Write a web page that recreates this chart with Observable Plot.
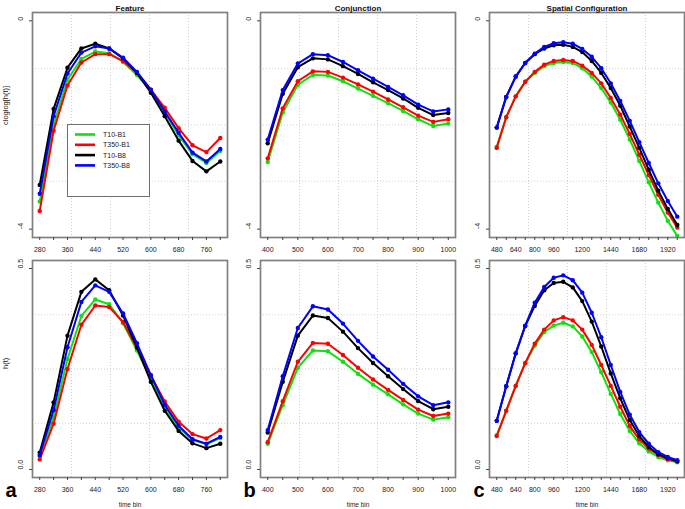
<!DOCTYPE html>
<html><head><meta charset="utf-8">
<script src="https://cdn.jsdelivr.net/npm/d3@7"></script>
<script src="https://cdn.jsdelivr.net/npm/@observablehq/plot@0.6"></script>
<style>
body{margin:0;background:#fff;font-family:"Liberation Sans",Arial,sans-serif;}
#root{position:relative;width:685px;height:509px;overflow:hidden;background:#fff;}
.panel{position:absolute;}
#legend{position:absolute;left:67px;top:124px;}
</style></head><body><div id="root"></div>
<script>
// ---------- categories ----------
const seriesNames = ["T10-B1", "T350-B1", "T10-B8", "T350-B8"];
const seriesColors = ["#10e010", "#ff0000", "#000000", "#0000ff"];

// ---------- x bins & tick labels ----------
const featureBins = [280,320,360,400,440,480,520,560,600,640,680,720,760,800];
const featureTickLabels = [280,360,440,520,600,680,760];
const conjBins = [400,450,500,550,600,650,700,750,800,850,900,950,1000];
const conjTickLabels = [400,500,600,700,800,900,1000];
const spatialBins = [480,560,640,720,800,880,960,1040,1120,1200,1280,1360,1440,1520,1600,1680,1760,1840,1920,2000];
const spatialTickLabels = [480,640,800,960,1200,1440,1680,1920];

// ---------- y ticks ----------
const cloglogTicks = [0, -4];
const hazardTicks = [0, 0.5];

// ---------- Feature: cloglog[h(t)] ----------
const featureCloglogT10B1  = [-3.47,-1.99,-1.13,-0.73,-0.59,-0.62,-0.79,-1.04,-1.34,-1.76,-2.20,-2.56,-2.73,-2.50];
const featureCloglogT350B1 = [-3.65,-2.11,-1.24,-0.80,-0.64,-0.64,-0.77,-1.00,-1.32,-1.67,-2.06,-2.39,-2.52,-2.25];
const featureCloglogT10B8  = [-3.15,-1.69,-0.90,-0.53,-0.44,-0.53,-0.72,-1.00,-1.38,-1.83,-2.30,-2.69,-2.89,-2.70];
const featureCloglogT350B8 = [-3.32,-1.83,-1.01,-0.61,-0.49,-0.53,-0.71,-0.98,-1.32,-1.74,-2.15,-2.53,-2.70,-2.46];

// ---------- Conjunction: cloglog[h(t)] ----------
const conjCloglogT10B1  = [-2.71,-1.76,-1.23,-1.04,-1.05,-1.16,-1.30,-1.44,-1.58,-1.73,-1.89,-2.02,-1.97];
const conjCloglogT350B1 = [-2.64,-1.68,-1.16,-0.97,-0.98,-1.09,-1.22,-1.36,-1.51,-1.66,-1.82,-1.94,-1.89];
const conjCloglogT10B8  = [-2.35,-1.40,-0.89,-0.72,-0.74,-0.87,-1.02,-1.18,-1.33,-1.49,-1.67,-1.81,-1.77];
const conjCloglogT350B8 = [-2.28,-1.33,-0.82,-0.64,-0.66,-0.79,-0.95,-1.11,-1.27,-1.43,-1.61,-1.74,-1.70];

// ---------- Spatial Configuration: cloglog[h(t)] ----------
const spatialCloglogT10B1  = [-2.42,-1.85,-1.45,-1.17,-1.00,-0.87,-0.81,-0.79,-0.81,-0.91,-1.07,-1.29,-1.57,-1.90,-2.28,-2.69,-3.10,-3.49,-3.84,-4.13];
const spatialCloglogT350B1 = [-2.44,-1.85,-1.45,-1.17,-0.98,-0.84,-0.77,-0.75,-0.77,-0.86,-1.00,-1.20,-1.48,-1.80,-2.17,-2.57,-2.96,-3.34,-3.68,-3.97];
const spatialCloglogT10B8  = [-2.05,-1.46,-1.07,-0.81,-0.64,-0.53,-0.47,-0.46,-0.50,-0.60,-0.77,-1.00,-1.29,-1.63,-2.03,-2.44,-2.86,-3.26,-3.61,-3.92];
const spatialCloglogT350B8 = [-2.05,-1.46,-1.07,-0.81,-0.63,-0.50,-0.43,-0.41,-0.44,-0.54,-0.69,-0.91,-1.20,-1.54,-1.92,-2.33,-2.73,-3.12,-3.46,-3.76];

// ---------- Feature: h(t) ----------
const featureHazT10B1  = [0.032,0.129,0.275,0.382,0.423,0.411,0.364,0.296,0.225,0.154,0.104,0.073,0.063,0.078];
const featureHazT350B1 = [0.025,0.114,0.250,0.360,0.408,0.404,0.367,0.302,0.233,0.169,0.119,0.088,0.077,0.098];
const featureHazT10B8  = [0.042,0.167,0.333,0.442,0.473,0.446,0.383,0.304,0.218,0.146,0.096,0.065,0.053,0.064];
const featureHazT350B8 = [0.036,0.148,0.304,0.417,0.458,0.442,0.388,0.314,0.235,0.161,0.109,0.075,0.064,0.081];

// ---------- Conjunction: h(t) ----------
const conjHazT10B1  = [0.064,0.160,0.253,0.296,0.294,0.268,0.238,0.211,0.187,0.162,0.139,0.124,0.130];
const conjHazT350B1 = [0.068,0.170,0.268,0.315,0.313,0.285,0.253,0.224,0.198,0.173,0.149,0.133,0.139];
const conjHazT10B8  = [0.092,0.218,0.333,0.383,0.377,0.343,0.302,0.265,0.232,0.200,0.170,0.150,0.156];
const conjHazT350B8 = [0.098,0.232,0.352,0.406,0.398,0.363,0.320,0.281,0.248,0.213,0.182,0.160,0.167];

// ---------- Spatial Configuration: h(t) ----------
const spatialHazT10B1  = [0.085,0.146,0.208,0.264,0.308,0.342,0.358,0.365,0.356,0.331,0.292,0.242,0.188,0.138,0.096,0.065,0.045,0.031,0.023,0.018];
const spatialHazT350B1 = [0.083,0.146,0.208,0.265,0.313,0.348,0.371,0.379,0.371,0.348,0.310,0.260,0.208,0.156,0.108,0.075,0.052,0.036,0.026,0.019];
const spatialHazT10B8  = [0.121,0.207,0.289,0.357,0.407,0.446,0.464,0.467,0.453,0.419,0.368,0.306,0.239,0.177,0.123,0.083,0.056,0.038,0.028,0.021];
const spatialHazT350B8 = [0.121,0.207,0.289,0.358,0.415,0.454,0.477,0.483,0.471,0.440,0.390,0.329,0.260,0.193,0.136,0.093,0.064,0.043,0.031,0.023];

const FONT = '"Liberation Sans", Arial, Helvetica, sans-serif';
const rootEl = document.getElementById("root");

function ext(lo, hi) { const e = (hi - lo) * 0.04; return [lo - e, hi + e]; }

function panel(o) {
  const xd = ext(d3.min(o.bins), d3.max(o.bins));
  const yd = ext(o.yRange[0], o.yRange[1]);
  const gridX = [1,2,3,4].map(i => xd[0] + (xd[1] - xd[0]) * i / 5);
  const gridY = [1,2,3].map(i => yd[0] + (yd[1] - yd[0]) * i / 4);
  const marks = [
    Plot.ruleX(gridX, {stroke: "#cfcfcf", strokeDasharray: "1,2", strokeWidth: 1}),
    Plot.ruleY(gridY, {stroke: "#cfcfcf", strokeDasharray: "1,2", strokeWidth: 1})
  ];
  o.series.forEach((vals, k) => {
    const rows = o.bins.map((b, i) => ({bin: b, v: vals[i]}));
    marks.push(Plot.line(rows, {x: "bin", y: "v", stroke: seriesColors[k], strokeWidth: 2}));
    marks.push(Plot.dot(rows, {x: "bin", y: "v", fill: seriesColors[k], r: 2.2}));
  });
  marks.push(
    Plot.frame({stroke: "#808080", strokeWidth: 1.7}),
    Plot.axisX({ticks: o.bins, tickSize: 3, tickFormat: () => "", stroke: "#444", label: null}),
    Plot.axisX({ticks: o.tickLabels, tickSize: 0, tickPadding: 10, tickFormat: d => String(d), fontSize: 7, fill: "#1a1a1a", label: null}),
    Plot.axisY({ticks: o.yTicks, tickSize: 3, tickFormat: () => "", stroke: "#444", label: null}),
    Plot.text(o.yTicks, {y: d => d, text: d => o.yFmt(d), frameAnchor: "left", dx: -12, rotate: -90, fontSize: 7, fill: "#1a1a1a"})
  );
  if (o.title) marks.push(Plot.text([o.title], {text: d => d, frameAnchor: "top", dy: -7.6, fontWeight: "bold", fontSize: 8, fill: "#111"}));
  if (o.ylabel) marks.push(Plot.text([o.ylabel], {text: d => d, frameAnchor: "left", dx: -27, rotate: -90, fontSize: 7.5, fill: "#1a1a1a"}));
  if (o.xlabel) marks.push(Plot.text([o.xlabel], {text: d => d, frameAnchor: "bottom", dy: 29, fontSize: 6.5, fill: "#1a1a1a"}));
  if (o.letter) marks.push(Plot.text([o.letter], {text: d => d, frameAnchor: "bottom-left", dx: o.letterDx, dy: 19.5, fontWeight: "bold", fontSize: 20, fill: "#000"}));

  const svg = Plot.plot({
    width: 228, height: o.height,
    marginLeft: 32, marginRight: 1, marginTop: o.mt, marginBottom: o.mb,
    x: {domain: xd, label: null}, y: {domain: yd, label: null},
    style: {fontFamily: FONT, fontSize: "7px", background: "transparent", color: "#1a1a1a", overflow: "visible"},
    marks
  });
  svg.classList.add("panel");
  svg.style.left = o.left + "px";
  svg.style.top = o.topPx + "px";
  rootEl.appendChild(svg);
}

const colLeft = [0, 228, 457];
const fmtCl = d => String(d);
const fmtH = d => d.toFixed(1);

const topRow = {topPx: 0, height: 255, mt: 12, mb: 18, yRange: [-4, 0], yTicks: cloglogTicks, yFmt: fmtCl};
const botRow = {topPx: 255, height: 254, mt: 5, mb: 32, yRange: [0, 0.5], yTicks: hazardTicks, yFmt: fmtH, xlabel: "time bin"};

panel({...topRow, left: colLeft[0], bins: featureBins, tickLabels: featureTickLabels, title: "Feature", ylabel: "cloglog[h(t)]",
  series: [featureCloglogT10B1, featureCloglogT350B1, featureCloglogT10B8, featureCloglogT350B8]});
panel({...topRow, left: colLeft[1], bins: conjBins, tickLabels: conjTickLabels, title: "Conjunction",
  series: [conjCloglogT10B1, conjCloglogT350B1, conjCloglogT10B8, conjCloglogT350B8]});
panel({...topRow, left: colLeft[2], bins: spatialBins, tickLabels: spatialTickLabels, title: "Spatial Configuration",
  series: [spatialCloglogT10B1, spatialCloglogT350B1, spatialCloglogT10B8, spatialCloglogT350B8]});

panel({...botRow, left: colLeft[0], bins: featureBins, tickLabels: featureTickLabels, ylabel: "h(t)", letter: "a", letterDx: -27,
  series: [featureHazT10B1, featureHazT350B1, featureHazT10B8, featureHazT350B8]});
panel({...botRow, left: colLeft[1], bins: conjBins, tickLabels: conjTickLabels, letter: "b", letterDx: -17,
  series: [conjHazT10B1, conjHazT350B1, conjHazT10B8, conjHazT350B8]});
panel({...botRow, left: colLeft[2], bins: spatialBins, tickLabels: spatialTickLabels, letter: "c", letterDx: -16,
  series: [spatialHazT10B1, spatialHazT350B1, spatialHazT10B8, spatialHazT350B8]});

// ---------- legend ----------
const lg = d3.create("svg").attr("id", "legend").attr("width", 83).attr("height", 73);
lg.append("rect").attr("x", 0.5).attr("y", 0.5).attr("width", 82).attr("height", 72)
  .attr("fill", "#fff").attr("stroke", "#6e6e6e").attr("stroke-width", 1);
seriesNames.forEach((name, i) => {
  const cy = 10.5 + i * 10.3;
  lg.append("line").attr("x1", 8).attr("x2", 28).attr("y1", cy).attr("y2", cy)
    .attr("stroke", seriesColors[i]).attr("stroke-width", 2.6);
  lg.append("text").attr("x", 36).attr("y", cy).attr("dy", "0.35em")
    .attr("font-family", FONT).attr("font-size", 7).attr("fill", "#1a1a1a").text(name);
});
rootEl.appendChild(lg.node());
</script></body></html>
